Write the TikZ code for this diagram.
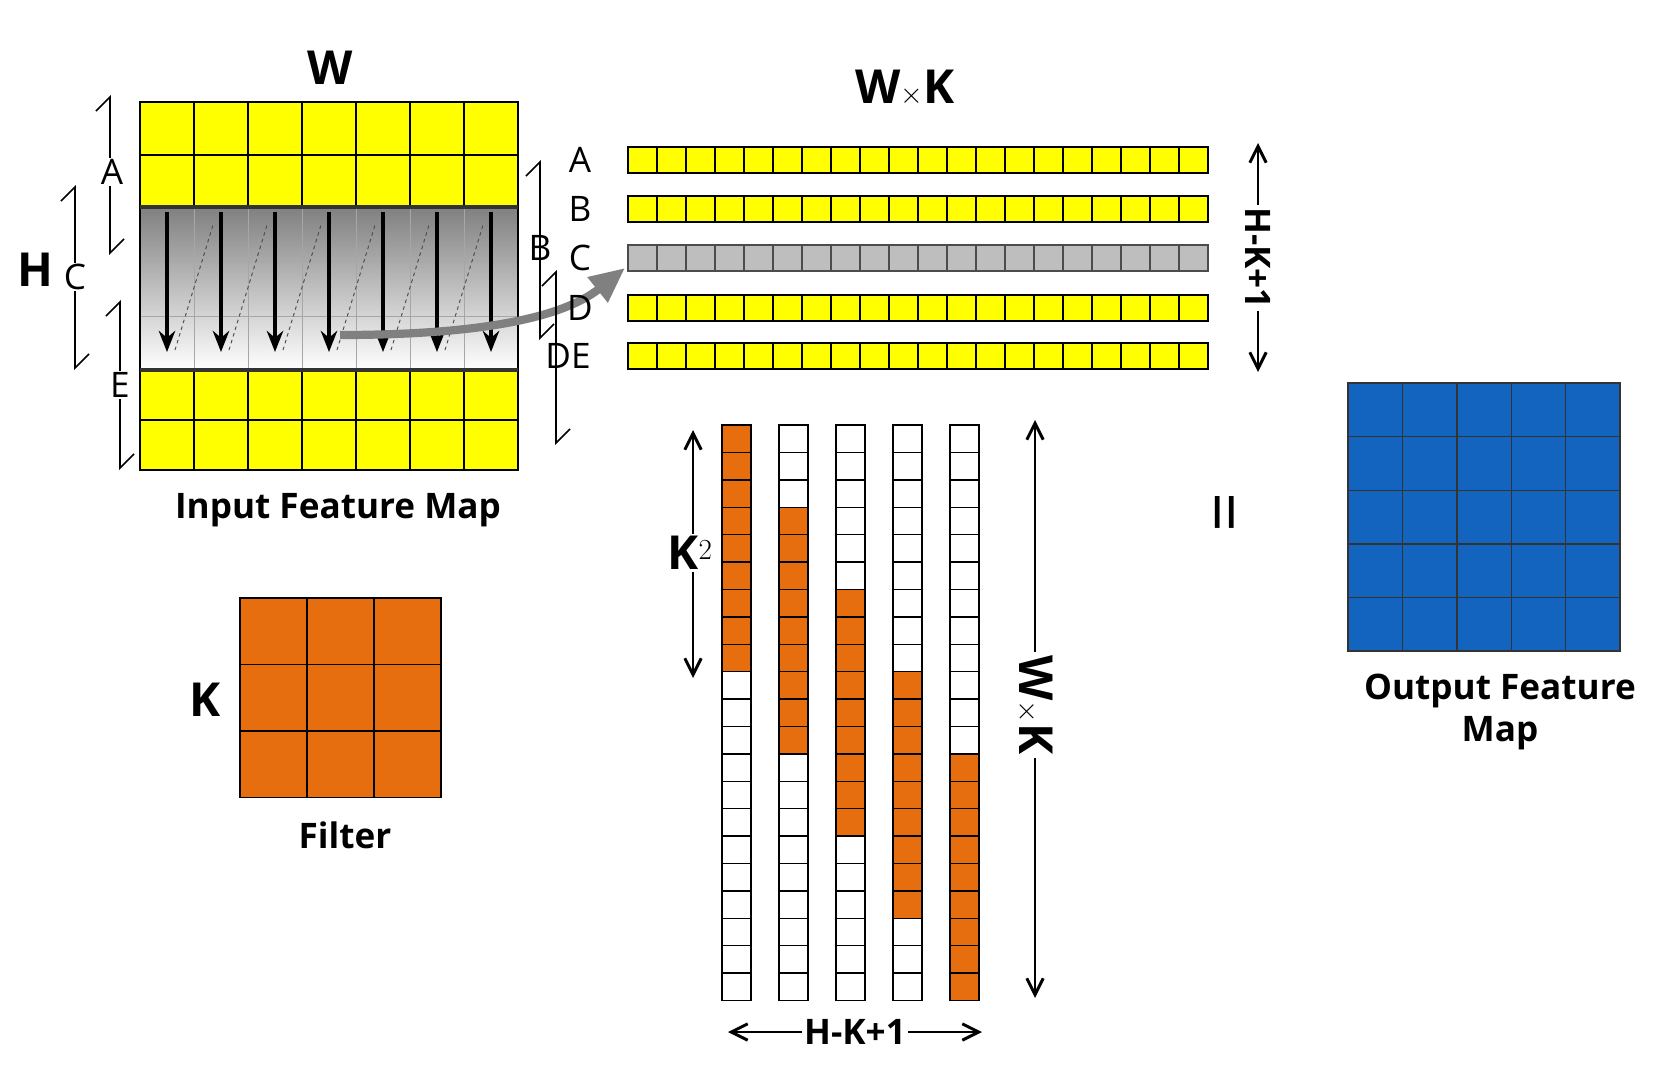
\documentclass[tikz,border=0pt]{standalone}
\usepackage{fontspec}
\setmainfont{Open Sans}
\usetikzlibrary{arrows.meta}
\definecolor{yel}{RGB}{255,255,0}
\definecolor{org}{RGB}{230,110,15}
\definecolor{blu}{RGB}{18,100,190}
\definecolor{shade}{RGB}{214,214,160}
\definecolor{gry}{RGB}{190,190,190}
\tikzset{
 cell/.style={draw=black,line width=1.2pt},
 lbl/.style={font=\fontsize{30}{34}\selectfont},
 big/.style={font=\bfseries\fontsize{40}{44}\selectfont},
 capt/.style={font=\bfseries\fontsize{30}{36}\selectfont,align=center},
 dim/.style={line width=2.5pt,{Straight Barb[length=14pt,width=14pt]}-{Straight Barb[length=14pt,width=14pt]}},
 brk/.style={line width=1.4pt,{Straight Barb[left,length=12pt]}-{Straight Barb[left,length=12pt]}},
 dn/.style={line width=3pt,-{Stealth[length=18pt,width=14pt]}},
}
\begin{document}
\begin{tikzpicture}[x=0.03cm,y=-0.03cm]
\useasboundingbox (0,0) rectangle (1666,1067);
% input feature map
\foreach \i in {0,...,6}{\foreach \j in {0,1,5,6}{
 \fill[yel] (140+54*\i,102+52.6*\j) rectangle ++(54,52.6);}}
\fill[shade] (140,207) rectangle (518,370);
\foreach \i in {1,...,6}{\draw[line width=1.2pt] (140+54*\i,102)--(140+54*\i,207) (140+54*\i,370)--(140+54*\i,470);
 \draw[gray!70,line width=0.6pt] (140+54*\i,207)--(140+54*\i,370);}
\draw[gray!70,line width=0.6pt] (140,261)--(518,261) (140,316)--(518,316);
\draw[line width=1.2pt] (140,155)--(518,155) (140,420)--(518,420);
\draw[line width=1.2pt] (140,102) rectangle (518,470);
\draw[line width=4pt,black!80] (140,207)--(518,207) (140,370)--(518,370);
\node[big] (W) at (330,68) {W};
\node[big] (H) at (35,270) {H};
\node[capt] (ifm) at (338,510) {Input Feature Map};
% scan arrows
\foreach \i in {0,...,6}{\draw[dn] (167+54*\i,212)--(167+54*\i,352);}
\foreach \i in {0,...,5}{\draw[dashed,line width=0.8pt,black!70] (175+54*\i,350)--(213+54*\i,225);}
\coordinate (gs) at (340,335);
\coordinate (ge) at (625,268);
\draw[gray,line width=7pt,-{Triangle[length=30pt,width=26pt]}] (gs) .. controls (470,335) and (560,320) .. (ge);
% brackets left
\draw[brk] (110,95)--(110,255); \node[lbl,fill=white,inner sep=1pt] at (112,172) {A};
\draw[brk] (75,185)--(75,370); \node[lbl,fill=white,inner sep=1pt] at (75,277) {C};
\draw[brk] (120,300)--(120,470); \node[lbl,fill=white,inner sep=1pt] at (120,385) {E};
\draw[brk] (540,160)--(540,340);
\draw[brk] (556,270)--(556,445);
\node[lbl] at (540,248) {B};
% row labels
\foreach \t/\y in {A/160,B/209,C/258,D/308}{\node[lbl] at (580,\y) {\t};}
\node[lbl] at (568,356) {DE};
% rows
\foreach \r/\y in {0/147,1/196,3/295,4/343}{\foreach \i in {0,...,19}{\draw[cell,fill=yel] (628+29*\i,\y) rectangle ++(29,26);}}
\foreach \i in {0,...,19}{\draw[cell,fill=gry,draw=black!70] (628+29*\i,245) rectangle ++(29,26);}
\node[big] (WK) at (905,88) {W$\times$K};
\coordinate (r1) at (1258,143); \coordinate (r2) at (1258,372);
\draw[dim] (r1)--(r2);
\node[font=\bfseries\fontsize{30}{34}\selectfont,rotate=-90,fill=white,inner sep=2pt] at (1258,258) {H-K+1};
% columns
\foreach \c/\x in {0/722,1/779,2/836,3/893,4/950}{
 \foreach \k in {0,...,20}{
  \pgfmathtruncatemacro{\lo}{3*\c}\pgfmathtruncatemacro{\hi}{3*\c+8}
  \ifnum\k<\lo \def\fc{white}\else\ifnum\k>\hi \def\fc{white}\else\def\fc{org}\fi\fi
  \draw[cell,fill=\fc] (\x,425+27.4*\k) rectangle ++(29,27.4);}}
\coordinate (k1) at (693,430); \coordinate (k2) at (693,678);
\draw[dim] (k1)--(k2);
\node[big,fill=white,inner sep=2pt] at (690,553) {K$^{2}$};
\coordinate (w1) at (1035,420); \coordinate (w2) at (1035,998);
\draw[dim] (w1)--(w2);
\node[big,rotate=-90,fill=white,inner sep=3pt] at (1035,705) {W$\times$K};
\coordinate (h1) at (728,1032); \coordinate (h2) at (982,1032);
\draw[dim] (h1)--(h2);
\node[capt,fill=white,inner sep=2pt] at (855,1032) {H-K+1};
% filter
\foreach \i in {0,1,2}{\foreach \j in {0,1,2}{\draw[cell,fill=org] (240+67*\i,598+66.5*\j) rectangle ++(67,66.5);}}
\node[big] (K) at (205,700) {K};
\node[capt] (flt) at (345,835) {Filter};
% equals
\node[font=\fontsize{60}{60}\selectfont,rotate=90] (eq) at (1232,512) {=};
% output
\foreach \i in {0,...,4}{\foreach \j in {0,...,4}{\draw[line width=1.2pt,draw=black!80,fill=blu] (1348+54.4*\i,383+53.6*\j) rectangle ++(54.4,53.6);}}
\node[capt] (ofm) at (1500,712) {Output Feature\\Map};
\end{tikzpicture}
\end{document}
